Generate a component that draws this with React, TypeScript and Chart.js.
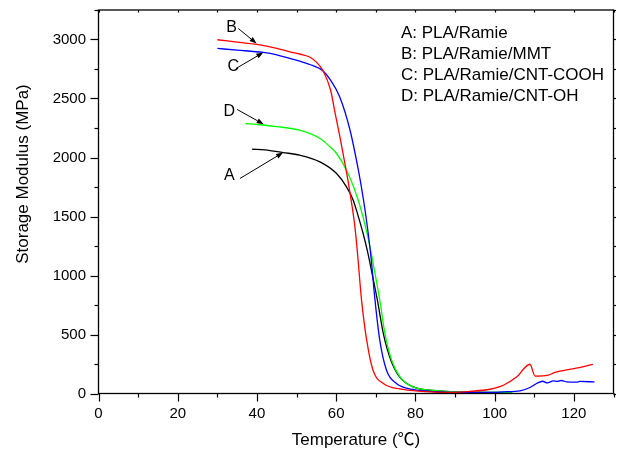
import React, { useEffect, useRef } from 'react';
import { Chart, registerables } from 'chart.js';

Chart.register(...registerables);

// ---- data ----
const tempA = [38.8, 42, 46.6, 50.8, 55.9, 60.1, 62.6, 64.3, 65.5, 66.8, 68.0, 69.1, 70.4, 71.9, 73.8, 76.0, 79.4, 86, 95, 104];
const modA = [2070, 2065, 2042, 2020, 1963, 1864, 1751, 1638, 1510, 1356, 1190, 1010, 791, 508, 282, 141, 56, 22, 10, 9];

const tempB = [30, 35, 40, 45, 48.3, 51, 53.4, 55, 56.7, 58.6, 59.7, 61, 62, 63, 64, 64.7, 65.4, 66.4, 67.7, 69.3, 71.9, 76.9, 80, 85, 90, 93.8, 98.8, 102.2, 105.6, 108.9, 110.2, 113.5, 115.2, 120, 124.8];
const modB = [2998, 2978, 2958, 2925, 2895, 2875, 2850, 2808, 2734, 2570, 2380, 2165, 1985, 1800, 1590, 1420, 1180, 791, 452, 197, 85, 34, 22, 12, 10, 18, 36, 70, 141, 248, 147, 155, 178, 210, 246];

const tempC = [30, 35, 41.6, 45, 48.3, 50.8, 54, 56.7, 58.5, 60.9, 63.5, 65.6, 66.8, 67.8, 68.8, 69.8, 71.0, 72.7, 75.2, 79.4, 85, 90, 100, 102.2, 106.4, 108.9, 110.6, 112.1, 113.3, 114.8, 115.8, 116.9, 118.2, 120.7, 121.5, 125.2];
const modC = [2924, 2910, 2890, 2870, 2839, 2816, 2780, 2734, 2660, 2513, 2231, 1892, 1660, 1430, 1150, 791, 452, 197, 85, 34, 15, 10, 10, 14, 22, 51, 85, 104, 90, 107, 102, 110, 98, 96, 102, 98];

const tempD = [37.1, 40, 45, 50.8, 55.9, 58, 60.1, 62.6, 64.7, 66.0, 67.5, 68.9, 70.0, 71.0, 72.3, 74.0, 76.1, 79.4, 86.2, 90, 95, 104.5];
const modD = [2288, 2280, 2262, 2231, 2161, 2105, 2034, 1892, 1723, 1590, 1400, 1180, 980, 791, 508, 282, 141, 56, 22, 14, 10, 9];

const legendLines = ['A: PLA/Ramie', 'B: PLA/Ramie/MMT', 'C: PLA/Ramie/CNT-COOH', 'D: PLA/Ramie/CNT-OH'];

// annotation letters and arrows, in data units (label, tail, head)
const annLabels = ['B', 'C', 'D', 'A'];
const annLabelX = [33.6, 34.0, 33.0, 33.0];
const annLabelY = [3098, 2768, 2387, 1850];
const annTailX = [35.3, 34.7, 35.0, 35.7];
const annTailY = [3093, 2754, 2407, 1822];
const annHeadX = [39.9, 41.6, 41.7, 46.6];
const annHeadY = [2966, 2890, 2282, 2042];

const xTitle = 'Temperature (℃)';
const yTitle = 'Storage Modulus (MPa)';

const X_MIN = 0, X_MAX = 130, X_STEP = 10;
const Y_MIN = 0, Y_MAX = 3250, Y_STEP = 250;

const FONT = '"Liberation Sans", Arial, "Noto Sans CJK SC", sans-serif';

const toPts = (xs: number[], ys: number[]) => xs.map((x, i) => ({ x, y: ys[i] }));

const overlay = {
  id: 'overlay',
  afterDatasetsDraw(chart: any) {
    const { ctx, chartArea: ca, scales } = chart;
    const xs = scales.x, ys = scales.y;
    const seg = (x1: number, y1: number, x2: number, y2: number) => {
      ctx.beginPath(); ctx.moveTo(x1, y1); ctx.lineTo(x2, y2); ctx.stroke();
    };
    ctx.save();
    ctx.strokeStyle = '#000';
    ctx.lineWidth = 1.3;
    ctx.strokeRect(ca.left, ca.top, ca.right - ca.left, ca.bottom - ca.top);
    ctx.lineWidth = 1.2;
    for (let i = 0; i * X_STEP <= X_MAX; i++) {
      const v = X_MIN + i * X_STEP;
      const px = Math.round(xs.getPixelForValue(v)) + 0.5;
      const major = v % 20 === 0 && v <= 120;
      seg(px, ca.bottom, px, ca.bottom + (major ? 8 : 4));
      seg(px, ca.top, px, ca.top + 2.5);
    }
    for (let i = 0; i * Y_STEP <= Y_MAX; i++) {
      const v = Y_MIN + i * Y_STEP;
      const py = Math.round(ys.getPixelForValue(v)) + 0.5;
      const major = v % 500 === 0 && v <= 3000;
      seg(ca.left, py, ca.left - (major ? 8 : 4), py);
      seg(ca.right, py, ca.right + 2.5, py);
    }
    // annotations
    ctx.fillStyle = '#000';
    ctx.font = `16px ${FONT}`;
    ctx.textAlign = 'center';
    ctx.textBaseline = 'middle';
    ctx.lineWidth = 1;
    for (let i = 0; i < annLabels.length; i++) {
      ctx.fillText(annLabels[i], xs.getPixelForValue(annLabelX[i]), ys.getPixelForValue(annLabelY[i]));
      const tx = xs.getPixelForValue(annTailX[i]), ty = ys.getPixelForValue(annTailY[i]);
      const hx = xs.getPixelForValue(annHeadX[i]), hy = ys.getPixelForValue(annHeadY[i]);
      const ang = Math.atan2(hy - ty, hx - tx);
      const L = 7, W = 2.6;
      const bx = hx - L * Math.cos(ang), by = hy - L * Math.sin(ang);
      seg(tx, ty, bx, by);
      ctx.beginPath();
      ctx.moveTo(hx, hy);
      ctx.lineTo(bx + W * Math.sin(ang), by - W * Math.cos(ang));
      ctx.lineTo(bx - W * Math.sin(ang), by + W * Math.cos(ang));
      ctx.closePath();
      ctx.fill();
    }
    // legend text
    ctx.font = `17px ${FONT}`;
    ctx.textAlign = 'left';
    legendLines.forEach((t, i) => ctx.fillText(t, 401, 33 + i * 21.2));
    // axis titles
    ctx.font = `17px ${FONT}`;
    ctx.textAlign = 'center';
    ctx.fillText(xTitle, (ca.left + ca.right) / 2, 440);
    ctx.save();
    ctx.translate(23, 174);
    ctx.rotate(-Math.PI / 2);
    ctx.fillText(yTitle, 0, 0);
    ctx.restore();
    ctx.restore();
  },
};

export default function App() {
  const ref = useRef<HTMLCanvasElement | null>(null);
  useEffect(() => {
    document.body.style.margin = '0';
    const mk = (label: string, xs: number[], ys: number[], color: string) => ({
      label,
      data: toPts(xs, ys),
      borderColor: color,
      backgroundColor: color,
      borderWidth: 1.3,
      pointRadius: 0,
      fill: false,
      cubicInterpolationMode: 'monotone' as const,
    });
    const chart = new Chart(ref.current!, {
      type: 'line',
      data: {
        datasets: [
          mk('B', tempB, modB, '#ff0000'),
          mk('C', tempC, modC, '#0000ff'),
          mk('D', tempD, modD, '#00ff00'),
          mk('A', tempA, modA, '#000000'),
        ],
      },
      options: {
        animation: false,
        responsive: true,
        maintainAspectRatio: false,
        devicePixelRatio: 1,
        layout: { padding: { left: 0, top: 10, right: 7.5, bottom: 0 } },
        plugins: { legend: { display: false }, tooltip: { enabled: false } },
        scales: {
          x: {
            type: 'linear',
            min: X_MIN,
            max: X_MAX,
            grid: { display: false, drawTicks: false },
            border: { display: false },
            ticks: {
              stepSize: X_STEP,
              autoSkip: false,
              maxRotation: 0,
              padding: 11,
              color: '#000',
              font: { size: 15, family: FONT },
              callback: (v: any) => (v % 20 === 0 && v <= 120 ? String(v) : ''),
            },
            afterFit: (s: any) => {
              s.height = 58.5;
              s.paddingLeft = 0; s.paddingRight = 0; s.paddingTop = 0; s.paddingBottom = 0;
            },
          },
          y: {
            type: 'linear',
            min: Y_MIN,
            max: Y_MAX,
            grid: { display: false, drawTicks: false },
            border: { display: false },
            ticks: {
              stepSize: Y_STEP,
              autoSkip: false,
              padding: 12.5,
              color: '#000',
              font: { size: 15, family: FONT },
              callback: (v: any) => (v % 500 === 0 && v <= 3000 ? String(v) : ''),
            },
            afterFit: (s: any) => {
              s.width = 98.5;
              s.paddingLeft = 0; s.paddingRight = 0; s.paddingTop = 0; s.paddingBottom = 0;
            },
          },
        },
      },
      plugins: [overlay],
    });
    return () => chart.destroy();
  }, []);
  return (
    <div style={{ width: 621, height: 452, position: 'relative' }}>
      <canvas ref={ref} />
    </div>
  );
}
